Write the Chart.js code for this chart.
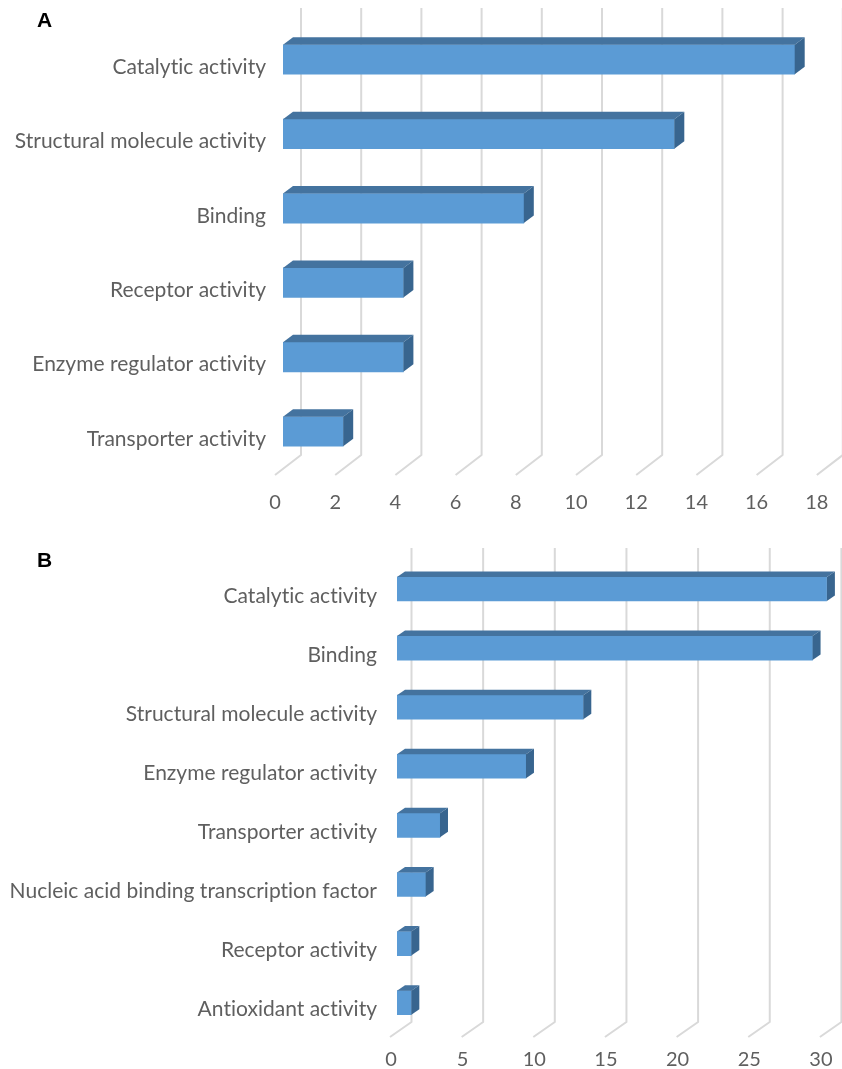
<!DOCTYPE html>
<html><head><meta charset="utf-8">
<script src="https://cdn.jsdelivr.net/npm/chart.js@4"></script>
<style>
html,body{margin:0;padding:0;background:#fff;width:842px;height:1069px;overflow:hidden}
canvas{position:absolute;left:0}
.tag{position:absolute;left:37px;font:bold 21px "Liberation Sans",Arial,sans-serif;color:#000;line-height:20px}
</style></head><body>
<canvas id="a" width="842" height="535" style="top:0"></canvas>
<canvas id="b" width="842" height="534" style="top:535px"></canvas>
<div class="tag" style="top:10px">A</div>
<div class="tag" style="top:550px">B</div>
<script>
const categoriesA = ["Catalytic activity","Structural molecule activity","Binding","Receptor activity","Enzyme regulator activity","Transporter activity"];
const valuesA = [17,13,8,4,4,2];
const categoriesB = ["Catalytic activity","Binding","Structural molecule activity","Enzyme regulator activity","Transporter activity","Nucleic acid binding transcription factor","Receptor activity","Antioxidant activity"];
const valuesB = [30,29,13,9,3,2,1,1];

const FRONT="#5B9BD5", TOP="#44739F", SIDE="#38658F", GRID="#D9D9D9", TEXT="#5F5F5F";

const box3d = {
  id:"box3d",
  beforeDraw(chart){ chart.ctx.letterSpacing="0.01px"; },
  beforeDatasetsDraw(chart,args,o){
    const c=chart.ctx, x=chart.scales.x;
    c.save();c.strokeStyle=GRID;c.lineWidth=2;c.lineJoin="round";
    x.ticks.forEach(t=>{
      const p=x.getPixelForValue(t.value);
      c.beginPath();
      c.moveTo(p+o.backDx,o.gridTop);
      c.lineTo(p+o.backDx,o.gridBottom);
      c.lineTo(p+o.frontDx,o.floorY);
      c.stroke();
    });
    c.restore();
  },
  afterDatasetsDraw(chart,args,o){
    const c=chart.ctx;
    c.save();
    chart.getDatasetMeta(0).data.forEach(b=>{
      const h=b.height/2, l=b.base, r=b.x, t=b.y-h, bt=b.y+h, dx=o.depthX, dy=o.depthY;
      c.fillStyle=TOP;c.beginPath();
      c.moveTo(l,t);c.lineTo(l+dx,t-dy);c.lineTo(r+dx,t-dy);c.lineTo(r,t);c.closePath();c.fill();
      c.fillStyle=SIDE;c.beginPath();
      c.moveTo(r,t);c.lineTo(r+dx,t-dy);c.lineTo(r+dx,bt-dy);c.lineTo(r,bt);c.closePath();c.fill();
    });
    c.restore();
  }
};

function make(id,labels,values,s){
  new Chart(document.getElementById(id),{
    type:"bar",
    data:{labels,datasets:[{data:values,backgroundColor:FRONT,borderWidth:0,barThickness:s.bar}]},
    plugins:[box3d],
    options:{
      indexAxis:"y",responsive:false,animation:false,
      layout:{padding:{top:s.top,right:s.right,left:0,bottom:0}},
      plugins:{legend:{display:false},tooltip:{enabled:false},box3d:s.box},
      scales:{
        x:{min:0,max:s.max,grid:{display:false,drawTicks:false},border:{display:false},
           ticks:{stepSize:s.step,color:TEXT,font:{family:"Lato",size:20},padding:s.xPad,labelOffset:s.xOff,maxRotation:0,autoSkip:false},
           afterFit(a){a.height=s.xH;a.paddingLeft=0;a.paddingRight=0;}},
        y:{grid:{display:false,drawTicks:false},border:{display:false},
           ticks:{color:TEXT,font:{family:"Lato",size:21},padding:s.yPad,labelOffset:s.yOff,autoSkip:false},
           afterFit(a){a.width=s.left;a.paddingTop=0;a.paddingBottom=0;}}
      }
    }
  });
}
make("a",categoriesA,valuesA,{bar:29.5,top:22.3,right:17.2,left:283,xH:66.3,max:18,step:2,xPad:22,xOff:-8,yPad:17,yOff:7.5,
  box:{backDx:18,frontDx:-8,gridTop:8,gridBottom:455,floorY:475,depthX:10,depthY:7.5}});
make("b",categoriesB,valuesB,{bar:24,top:24.45,right:15.1,left:397,xH:36.8,max:30,step:5,xPad:15,xOff:-6,yPad:20,yOff:7,
  box:{backDx:14.5,frontDx:-7,gridTop:13,gridBottom:487,floorY:502,depthX:8,depthY:5.5}});
</script>
</body></html>
